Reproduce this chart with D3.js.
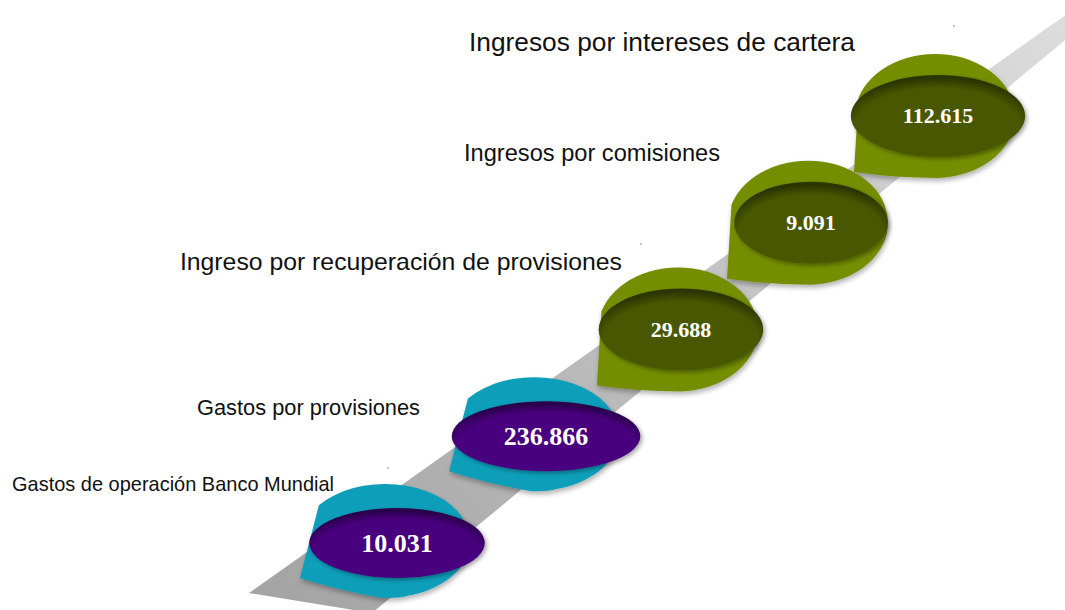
<!DOCTYPE html>
<html><head><meta charset="utf-8">
<script src="https://cdn.jsdelivr.net/npm/d3@7"></script>
<style>html,body{margin:0;padding:0;background:#fff;} svg{display:block}</style>
</head><body>
<svg id="chart" width="1065" height="610"></svg>
<script>
// ---- data ----
const categories = [
  "Gastos de operación Banco Mundial",
  "Gastos por provisiones",
  "Ingreso por recuperación de provisiones",
  "Ingresos por comisiones",
  "Ingresos por intereses de cartera"
];
const values = [10031, 236866, 29688, 9091, 112615];
const groups = ["gasto", "gasto", "ingreso", "ingreso", "ingreso"];

// ---- layout / style ----
const W = 1065, H = 610;
const svg = d3.select("#chart");
const defs = svg.append("defs");
const es = d3.formatLocale({decimal: ",", thousands: ".", grouping: [3], currency: ["$", ""]});
const fmt = es.format(",d");

const x = d3.scalePow().exponent(0.93).domain([0, categories.length - 1]).range([397, 938]);
const y = d3.scaleLinear().domain([0, categories.length - 1]).range([543, 116]);

const style = {
  ingreso: {outer: "#758e00", inner: "#4a5900", rim: "#2c3600", dx: -3, dy: 0, rx: 80, ry: 62,
            a0: 197, kx: -81, ky: 56, a1: 88, ery: 41, font: 22},
  gasto:   {outer: "#0b9eb9", inner: "#4a007f", rim: "#2a004c", dx: -12, dy: -2, rx: 85, ry: 57,
            a0: 219, kx: -85, ky: 37, a1: 92, ery: 35, font: 26}
};
const labelLayout = [
  {dx: -385, dy: -52, size: 21, len: 322},
  {dx: -349, dy: -21, size: 22, len: 223},
  {dx: -501, dy: -60, size: 24, len: 442},
  {dx: -347, dy: -62, size: 23, len: 256},
  {dx: -469, dy: -65, size: 25, len: 386}
];

// gradients & filters
const bandGrad = defs.append("linearGradient").attr("id", "bandGrad")
  .attr("gradientUnits", "userSpaceOnUse")
  .attr("x1", 300).attr("y1", 600).attr("x2", 1065).attr("y2", 20);
bandGrad.append("stop").attr("offset", 0).attr("stop-color", "#a5a5a5");
bandGrad.append("stop").attr("offset", 1).attr("stop-color", "#dcdcdc");

Object.entries(style).forEach(([k, s]) => {
  const g = defs.append("radialGradient").attr("id", "ell-" + k)
    .attr("cx", "50%").attr("cy", "62%").attr("r", "58%").attr("fx", "50%").attr("fy", "66%");
  g.append("stop").attr("offset", 0).attr("stop-color", s.inner);
  g.append("stop").attr("offset", 0.8).attr("stop-color", s.inner);
  g.append("stop").attr("offset", 1).attr("stop-color", s.rim);
});
const f1 = defs.append("filter").attr("id", "shadow").attr("x", "-20%").attr("y", "-20%").attr("width", "140%").attr("height", "150%");
f1.append("feDropShadow").attr("dx", 1).attr("dy", 3).attr("stdDeviation", 2.5)
  .attr("flood-color", "#000").attr("flood-opacity", 0.3);
const f2 = defs.append("filter").attr("id", "shadow2").attr("x", "-20%").attr("y", "-20%").attr("width", "140%").attr("height", "150%");
f2.append("feDropShadow").attr("dx", 2).attr("dy", 2).attr("stdDeviation", 2)
  .attr("flood-color", "#000").attr("flood-opacity", 0.35);

// band
svg.append("path")
  .attr("d", "M249,593 L372,613 L1138,-20 L1115,-20 Z")
  .attr("fill", "url(#bandGrad)");

// tiny specks
[[953, 25], [640, 243], [387, 467]].forEach(p =>
  svg.append("rect").attr("x", p[0]).attr("y", p[1]).attr("width", 2).attr("height", 2).attr("fill", "#c8c8c8"));

function outerPath(s, cx, cy) {
  const ox = cx + s.dx, oy = cy + s.dy;
  const a0 = s.a0 * Math.PI / 180, a1 = s.a1 * Math.PI / 180;
  const p0 = [ox + s.rx * Math.cos(a0), oy + s.ry * Math.sin(a0)];
  const k = [ox + s.kx, oy + s.ky];
  const p1 = [ox + s.rx * Math.cos(a1), oy + s.ry * Math.sin(a1)];
  return `M${p0[0]},${p0[1]} L${k[0]},${k[1]} Q${(k[0] + p1[0]) / 2},${(k[1] + p1[1]) / 2 + 3} ${p1[0]},${p1[1]} A${s.rx},${s.ry} 0 1 0 ${p0[0]},${p0[1]} Z`;
}

const items = categories.map((c, i) => ({c, v: values[i], g: groups[i], i}));

// labels
svg.append("g").selectAll("text").data(items).join("text")
  .attr("x", d => x(d.i) + labelLayout[d.i].dx)
  .attr("y", d => y(d.i) + labelLayout[d.i].dy)
  .attr("font-family", "'Liberation Sans', Arial, sans-serif")
  .attr("font-size", d => labelLayout[d.i].size)
  .attr("textLength", d => labelLayout[d.i].len)
  .attr("lengthAdjust", "spacingAndGlyphs")
  .attr("fill", "#111")
  .text(d => d.c);

// bubbles (top first so lower ones sit above)
const bub = svg.append("g").selectAll("g").data(items.slice().reverse()).join("g");
bub.append("path")
  .attr("d", d => outerPath(style[d.g], x(d.i), y(d.i)))
  .attr("fill", d => style[d.g].outer)
  .attr("filter", "url(#shadow)");
const ell = bub.append("ellipse")
  .attr("cx", d => x(d.i)).attr("cy", d => y(d.i))
  .attr("ry", d => style[d.g].ery)
  .attr("fill", d => `url(#ell-${d.g})`)
  .attr("filter", "url(#shadow2)");
const txt = bub.append("text")
  .attr("x", d => x(d.i)).attr("y", d => y(d.i))
  .attr("dy", "0.34em")
  .attr("text-anchor", "middle")
  .attr("font-family", "'Liberation Serif', 'Times New Roman', serif")
  .attr("font-weight", "bold")
  .attr("font-size", d => style[d.g].font)
  .attr("fill", "#fff")
  .text(d => fmt(d.v));
txt.each(function(d) { d.w = this.getComputedTextLength(); });
ell.attr("rx", d => d.w / 2 + 52);
</script>
</body></html>
